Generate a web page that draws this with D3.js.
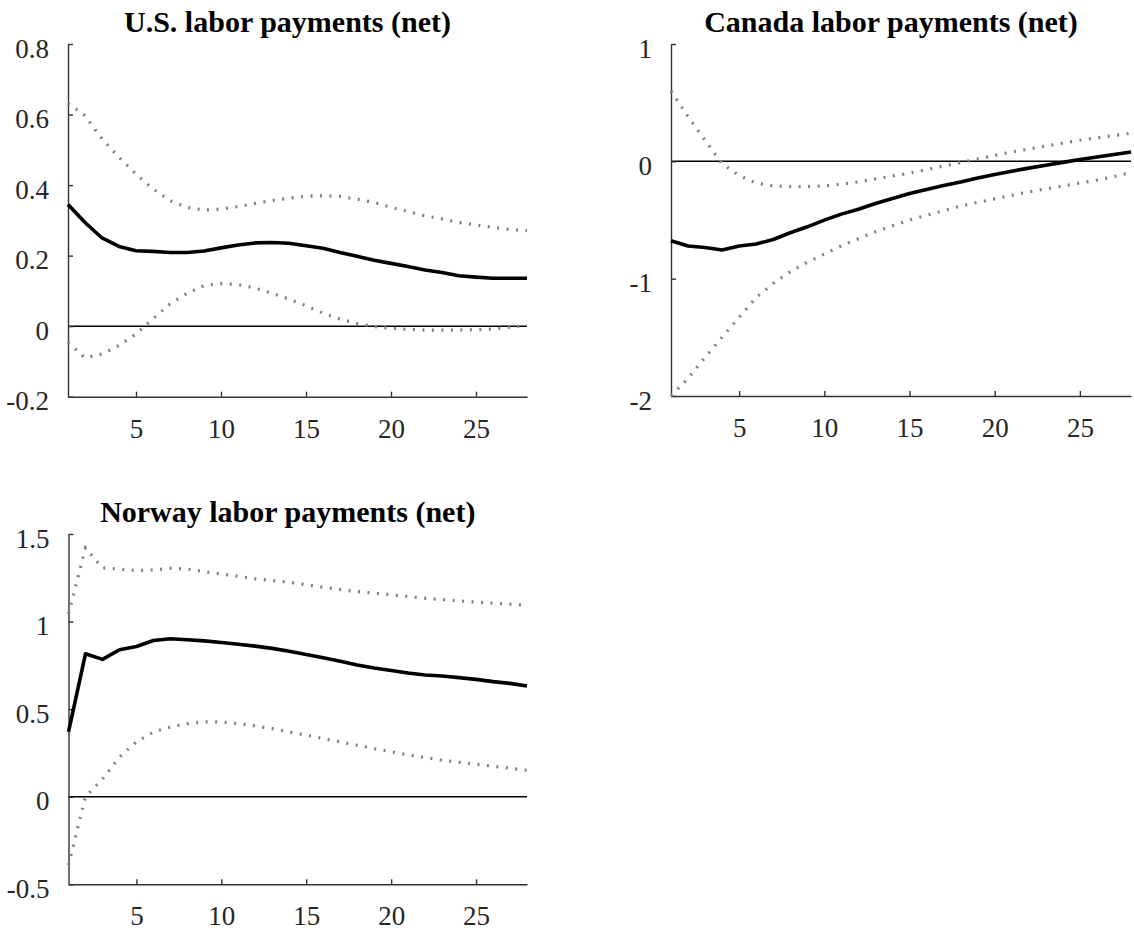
<!DOCTYPE html>
<html>
<head>
<meta charset="utf-8">
<script src="https://cdn.jsdelivr.net/npm/d3@7"></script>
<style>
  html, body { margin: 0; padding: 0; background: #fff; }
  svg { display: block; }
</style>
</head>
<body>
<svg id="chart" width="1134" height="933"></svg>
<script>
// Horizons 1..28
const horizons = d3.range(1, 29);

// U.S. labor payments (net)
const usMedian = [0.345, 0.294, 0.250, 0.226, 0.214, 0.212, 0.209, 0.209, 0.213, 0.222, 0.230, 0.236, 0.237, 0.235, 0.228, 0.221, 0.209, 0.198, 0.187, 0.178, 0.169, 0.159, 0.152, 0.143, 0.139, 0.136, 0.136, 0.136];
const usUpper = [0.632, 0.597, 0.531, 0.479, 0.431, 0.389, 0.356, 0.337, 0.329, 0.332, 0.339, 0.348, 0.356, 0.363, 0.368, 0.370, 0.368, 0.360, 0.351, 0.337, 0.325, 0.313, 0.304, 0.294, 0.287, 0.280, 0.274, 0.271];
const usLower = [-0.046, -0.090, -0.079, -0.055, -0.022, 0.021, 0.063, 0.093, 0.115, 0.121, 0.118, 0.108, 0.093, 0.077, 0.058, 0.037, 0.020, 0.008, -0.001, -0.006, -0.009, -0.011, -0.011, -0.011, -0.010, -0.008, -0.003, 0.002];

// Canada labor payments (net)
const caMedian = [-0.677, -0.722, -0.734, -0.755, -0.722, -0.705, -0.666, -0.609, -0.558, -0.501, -0.450, -0.408, -0.360, -0.317, -0.275, -0.241, -0.207, -0.176, -0.142, -0.112, -0.084, -0.058, -0.033, -0.009, 0.015, 0.037, 0.059, 0.080];
const caUpper = [0.600, 0.380, 0.180, -0.020, -0.120, -0.185, -0.210, -0.215, -0.215, -0.210, -0.195, -0.175, -0.150, -0.125, -0.100, -0.070, -0.040, -0.010, 0.020, 0.050, 0.080, 0.105, 0.130, 0.155, 0.180, 0.200, 0.220, 0.240];
const caLower = [-2.000, -1.850, -1.670, -1.500, -1.330, -1.160, -1.040, -0.940, -0.860, -0.790, -0.720, -0.660, -0.600, -0.550, -0.500, -0.460, -0.420, -0.380, -0.350, -0.320, -0.290, -0.260, -0.235, -0.210, -0.185, -0.160, -0.130, -0.095];

// Norway labor payments (net)
const noMedian = [0.370, 0.816, 0.784, 0.839, 0.858, 0.892, 0.902, 0.896, 0.890, 0.881, 0.871, 0.860, 0.847, 0.831, 0.812, 0.793, 0.773, 0.752, 0.735, 0.721, 0.706, 0.695, 0.689, 0.680, 0.670, 0.657, 0.647, 0.632];
const noUpper = [1.044, 1.420, 1.306, 1.300, 1.291, 1.295, 1.304, 1.300, 1.285, 1.272, 1.259, 1.244, 1.234, 1.225, 1.210, 1.196, 1.183, 1.171, 1.162, 1.152, 1.143, 1.133, 1.126, 1.118, 1.111, 1.105, 1.099, 1.094];
const noLower = [-0.390, 0.000, 0.100, 0.227, 0.313, 0.370, 0.398, 0.417, 0.427, 0.427, 0.417, 0.404, 0.389, 0.370, 0.351, 0.332, 0.313, 0.294, 0.275, 0.256, 0.239, 0.224, 0.208, 0.197, 0.186, 0.174, 0.163, 0.151];

// Axis ticks and labels
const xTicks = [5, 10, 15, 20, 25];
const usYTicks = [-0.2, 0, 0.2, 0.4, 0.6, 0.8];
const usYLabels = ["-0.2", "0", "0.2", "0.4", "0.6", "0.8"];
const caYTicks = [-2, -1, 0, 1];
const caYLabels = ["-2", "-1", "0", "1"];
const noYTicks = [-0.5, 0, 0.5, 1, 1.5];
const noYLabels = ["-0.5", "0", "0.5", "1", "1.5"];

const titles = ["U.S. labor payments (net)", "Canada labor payments (net)", "Norway labor payments (net)"];

const panels = [
  { title: titles[0], median: usMedian, upper: usUpper, lower: usLower,
    yDomain: [-0.2, 0.8], yTicks: usYTicks, yLabels: usYLabels,
    left: 68, right: 527, top: 44, bottom: 396.7 },
  { title: titles[1], median: caMedian, upper: caUpper, lower: caLower,
    yDomain: [-2, 1], yTicks: caYTicks, yLabels: caYLabels,
    left: 671, right: 1131, top: 44, bottom: 396 },
  { title: titles[2], median: noMedian, upper: noUpper, lower: noLower,
    yDomain: [-0.5, 1.5], yTicks: noYTicks, yLabels: noYLabels,
    left: 68.5, right: 527, top: 534, bottom: 884.3 }
];

const svg = d3.select("#chart");
const serif = "'Liberation Serif', 'Times New Roman', serif";
const axisColor = "#333";

panels.forEach(p => {
  const x = d3.scaleLinear().domain([1, 28]).range([p.left, p.right]);
  const y = d3.scaleLinear().domain(p.yDomain).range([p.bottom, p.top]);
  const g = svg.append("g");

  // Title
  g.append("text")
    .attr("x", (p.left + p.right) / 2 - 10)
    .attr("y", p.top - 12)
    .attr("text-anchor", "middle")
    .attr("font-family", serif)
    .attr("font-weight", "bold")
    .attr("font-size", 30)
    .attr("fill", "#000")
    .text(p.title);

  // Zero reference line
  g.append("line")
    .attr("x1", x(1)).attr("x2", x(28))
    .attr("y1", y(0)).attr("y2", y(0))
    .attr("stroke", "#000").attr("stroke-width", 1.5);

  // Y axis (ticks pointing inward)
  const yAxis = d3.axisLeft(y)
    .tickValues(p.yTicks)
    .tickFormat((d, i) => p.yLabels[i])
    .tickSizeInner(-5).tickSizeOuter(0).tickPadding(19);
  const gy = g.append("g").attr("transform", `translate(${p.left},0)`).call(yAxis);

  // X axis (ticks pointing inward)
  const xAxis = d3.axisBottom(x)
    .tickValues(xTicks)
    .tickFormat(d3.format("d"))
    .tickSizeInner(-5).tickSizeOuter(0).tickPadding(0);
  const gx = g.append("g").attr("transform", `translate(0,${p.bottom})`).call(xAxis);

  [gy, gx].forEach(a => {
    a.attr("font-family", serif);
    a.select(".domain").attr("stroke", axisColor).attr("stroke-width", 1.4);
    a.selectAll(".tick line").attr("stroke", axisColor).attr("stroke-width", 1.4);
    a.selectAll(".tick text")
      .attr("font-family", serif)
      .attr("font-size", 27)
      .attr("fill", "#262626");
  });
  gy.selectAll(".tick text").attr("dy", 13);
  gx.selectAll(".tick text").attr("y", 41).attr("dy", 0);

  const line = d3.line().x((d, i) => x(horizons[i])).y(d => y(d));

  // Error bands (dotted)
  [p.upper, p.lower].forEach(band => {
    g.append("path")
      .datum(band)
      .attr("d", line)
      .attr("fill", "none")
      .attr("stroke", "#7f7f7f")
      .attr("stroke-width", 3.2)
      .attr("stroke-dasharray", "2,7.5");
  });

  // Point estimate
  g.append("path")
    .datum(p.median)
    .attr("d", line)
    .attr("fill", "none")
    .attr("stroke", "#000")
    .attr("stroke-width", 3.6)
    .attr("stroke-linejoin", "round");
});
</script>
</body>
</html>
